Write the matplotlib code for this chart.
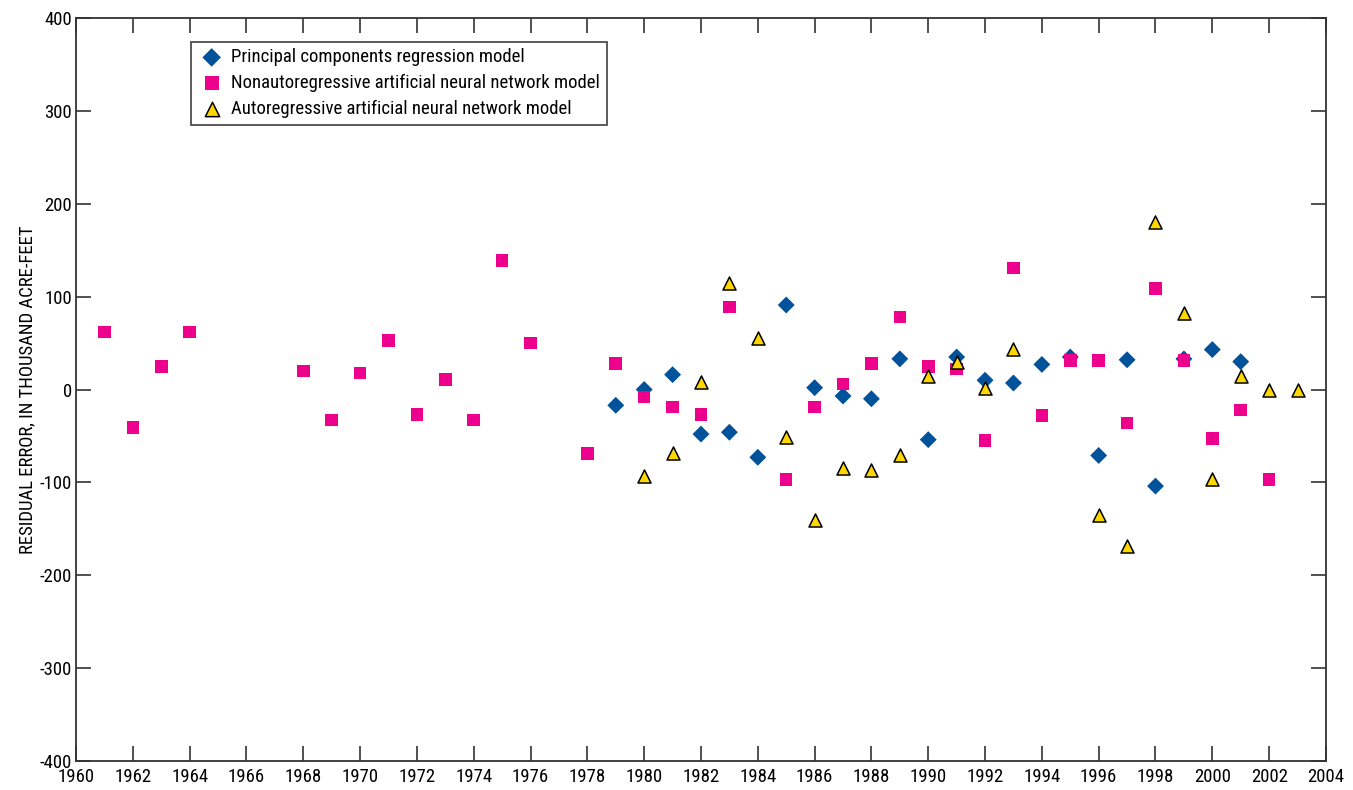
import matplotlib
matplotlib.use("Agg")
import matplotlib.pyplot as plt
from matplotlib import font_manager

# Residual errors, thousand acre-feet
pcr_years = [1979, 1980, 1981, 1982, 1983, 1984, 1985, 1986, 1987, 1988,
             1989, 1990, 1991, 1992, 1993, 1994, 1995, 1996, 1997, 1998,
             1999, 2000, 2001]
pcr_resid = [-17, 0, 16, -48, -46, -73, 91, 2, -7, -10,
             33, -54, 35, 10, 7, 27, 35, -71, 32, -104,
             33, 43, 30]

nar_years = [1961, 1962, 1963, 1964, 1968, 1969, 1970, 1971, 1972, 1973,
             1974, 1975, 1976, 1978, 1979, 1980, 1981, 1982, 1983, 1985,
             1986, 1987, 1988, 1989, 1990, 1991, 1992, 1993, 1994, 1995,
             1996, 1997, 1998, 1999, 2000, 2001, 2002]
nar_resid = [62, -41, 25, 62, 20, -33, 18, 53, -27, 11,
             -33, 139, 50, -69, 28, -8, -19, -27, 89, -97,
             -19, 6, 28, 78, 25, 22, -55, 131, -28, 31,
             31, -36, 109, 31, -53, -22, -97]

ar_years = [1980, 1981, 1982, 1983, 1984, 1985, 1986, 1987, 1988, 1989,
            1990, 1991, 1992, 1993, 1996, 1997, 1998, 1999, 2000, 2001,
            2002, 2003]
ar_resid = [-93, -68, 8, 115, 55, -51, -140, -84, -87, -71,
            15, 30, 2, 44, -135, -168, 180, 82, -96, 15,
            0, 0]

x_ticks = list(range(1960, 2005, 2))
y_ticks = list(range(-400, 401, 100))

labels = ["Principal components regression model",
          "Nonautoregressive artificial neural network model",
          "Autoregressive artificial neural network model"]

installed = {f.name for f in font_manager.fontManager.ttflist}
family = [n for n in ("Liberation Sans Narrow", "Roboto Condensed", "Open Sans Condensed")
          if n in installed]
family += ["DejaVu Sans"]
plt.rcParams["font.family"] = family
plt.rcParams["font.stretch"] = "condensed"
plt.rcParams["axes.unicode_minus"] = False

FS = 13.5

fig = plt.figure(figsize=(13.53, 7.90), dpi=100)
ax = fig.add_axes([0.0562, 0.0367, 0.9238, 0.9405])

ax.scatter(pcr_years, pcr_resid, marker="D", s=74, color="#00529B",
           edgecolors="none", zorder=3, label=labels[0])
ax.scatter(nar_years, nar_resid, marker="s", s=82, color="#EC008C",
           edgecolors="none", zorder=4, label=labels[1])
ax.scatter(ar_years, ar_resid, marker="^", s=88, color="#FFD700",
           edgecolors="black", linewidths=1.1, zorder=5, label=labels[2])

ax.set_xlim(1960, 2004)
ax.set_ylim(-400, 400)
ax.set_xticks(x_ticks)
ax.set_yticks(y_ticks)
ax.tick_params(direction="in", length=11, width=1.2, color="#333333",
               top=True, right=True, labelsize=FS, pad=3)
ax.tick_params(axis="x", pad=5)
for sp in ax.spines.values():
    sp.set_linewidth(1.3)
    sp.set_color("#333333")

ax.set_ylabel("RESIDUAL ERROR, IN THOUSAND ACRE-FEET", fontsize=FS, labelpad=2)

leg = ax.legend(loc="upper left", bbox_to_anchor=(0.092, 0.968), frameon=True,
                fancybox=False, edgecolor="#222222", fontsize=FS,
                handletextpad=0.3, borderpad=0.35, labelspacing=0.42,
                handlelength=1.5, scatterpoints=1, borderaxespad=0,
                markerscale=1.1)
leg.get_frame().set_linewidth(1.3)

fig.savefig("out.png", dpi=100)
